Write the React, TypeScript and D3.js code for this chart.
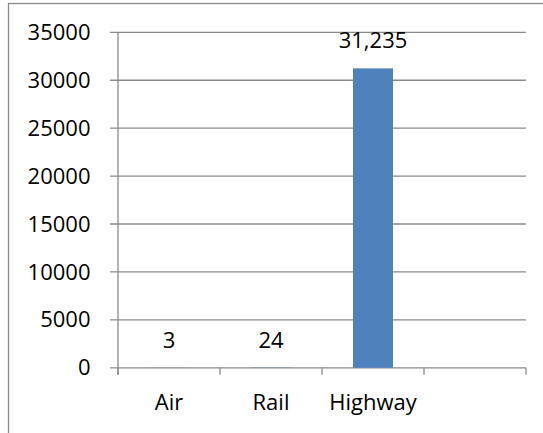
import React from "react";
import * as d3 from "d3";

const categories = ["Air", "Rail", "Highway", ""];
const values = [3, 24, 31235, null];
const yTicks = [0, 5000, 10000, 15000, 20000, 25000, 30000, 35000];

const W = 543;
const H = 433;
const font = "'Open Sans', sans-serif";
const grid = "#8a8a8a";

export default function App() {
  const x = d3.scaleBand<string>().domain(categories).range([118, 526]).paddingInner(0).paddingOuter(0);
  const y = d3.scaleLinear().domain([0, 35000]).range([367.8, 32.3]);
  const barW = x.bandwidth() * 0.392;
  const fmt = d3.format(",");
  const bandEdges = categories.map((c) => x(c) as number).concat([526]);

  return (
    <svg width={W} height={H} style={{ position: "absolute", left: 0, top: 0 }} fontFamily={font}>
      <rect x={0} y={0} width={W} height={H} fill="#fff" />
      <rect x={8.5} y={3.5} width={W + 20} height={H + 20} fill="none" stroke={grid} strokeWidth={1.3} />
      {yTicks.map((t) => (
        <g key={t}>
          <line x1={110} x2={526} y1={y(t)} y2={y(t)} stroke={grid} strokeWidth={1.3} />
          <text x={90.5} y={y(t) + 7.6} textAnchor="end" fontSize={22} fill="#000">
            {t}
          </text>
        </g>
      ))}
      <line x1={118} x2={118} y1={y(35000)} y2={y(0) + 7} stroke={grid} strokeWidth={1.3} />
      {bandEdges.map((e, i) => (
        <line key={i} x1={e} x2={e} y1={y(0)} y2={y(0) + 7} stroke={grid} strokeWidth={1.3} />
      ))}
      {categories.map((c, i) => {
        const v = values[i];
        const cx = (x(c) as number) + x.bandwidth() / 2;
        return (
          <g key={i}>
            {v !== null && (
              <rect x={cx - barW / 2} y={y(v)} width={barW} height={y(0) - y(v)} fill="#4f81bd" />
            )}
            {v !== null && (
              <text x={cx} y={y(v) - 20} textAnchor="middle" fontSize={22} fill="#000">
                {fmt(v)}
              </text>
            )}
            <text x={cx} y={410} textAnchor="middle" fontSize={22} fill="#000">
              {c}
            </text>
          </g>
        );
      })}
    </svg>
  );
}
